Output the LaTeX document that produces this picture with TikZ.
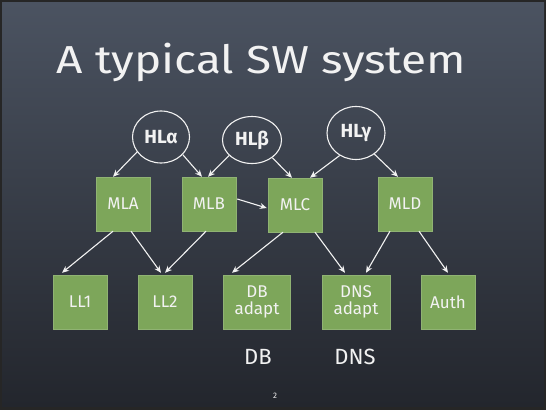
\documentclass[tikz,border=0pt]{standalone}
\usepackage{fontspec}
\setmainfont{Fira Sans}
\usetikzlibrary{shapes.geometric,arrows.meta,calc}

\definecolor{slatetop}{HTML}{4B5361}
\definecolor{slatebot}{HTML}{23262D}
\definecolor{boxgreen}{HTML}{7DA65A}
\definecolor{chalk}{HTML}{F2F2F2}

\tikzset{
  hl/.style={ellipse, draw=chalk, line width=1.1pt, inner sep=0pt,
             text=chalk, font=\fontsize{19}{21}\selectfont\bfseries},
  mod/.style={rectangle, fill=boxgreen, draw=boxgreen!85!white, line width=0.4pt,
              minimum width=54pt, minimum height=54pt, inner sep=1pt,
              text=chalk, font=\fontsize{17}{18}\selectfont, align=center},
  link/.style={draw=chalk, line width=1.1pt,
               -{Stealth[length=7pt,width=6pt]}},
  caption/.style={text=chalk, font=\fontsize{22}{24}\selectfont}
}

\begin{document}
\begin{tikzpicture}[x=1pt, y=-1pt]
  % chalkboard background with dark frame
  \useasboundingbox (0,0) rectangle (546,410);
  \fill[black!85] (0,0) rectangle (546,410);
  \shade[top color=slatetop, bottom color=slatebot] (2,2) rectangle (544,406);

  % title
  \node[anchor=base, text=chalk, font=\fontsize{39}{44}\selectfont]
    (title) at (261.5,73) {\scalebox{1.18}[1]{A typical SW system}};

  % high-level components
  \node[hl, minimum width=57pt, minimum height=52pt] (hla) at (161,137) {HLα};
  \node[hl, minimum width=59pt, minimum height=47pt] (hlb) at (252,140) {HLβ};
  \node[hl, minimum width=58pt, minimum height=53pt] (hlc) at (356,133) {HLγ};

  % mid-level modules
  \node[mod] (mla) at (123,204) {MLA};
  \node[mod] (mlb) at (209,204) {MLB};
  \node[mod] (mlc) at (295,205) {MLC};
  \node[mod] (mld) at (405,204) {MLD};

  % low-level modules
  \node[mod] (ll1) at (80,302) {LL1};
  \node[mod] (ll2) at (165,302) {LL2};
  \node[mod, minimum width=67pt] (dba) at (257,302) {DB\\[-1pt]adapt};
  \node[mod, minimum width=68pt] (dnsa) at (356,302) {DNS\\[-1pt]adapt};
  \node[mod] (auth) at (448,302) {Auth};

  % external services
  \node[caption] (db) at (258,357) {DB};
  \node[caption] (dns) at (355,357) {DNS};

  % page number
  \node[text=chalk, font=\fontsize{8}{9}\selectfont] (pg) at (275,396) {2};

  % high level -> mid level
  \draw[link] (hla.-148) -- ($(mla.north)+(-10,0)$);
  \draw[link] (hla.-39)  -- ($(mlb.north)+(-7,0)$);
  \draw[link] (hlb.-146) -- ($(mlb.north)+(-1,0)$);
  \draw[link] (hlb.-41)  -- ($(mlc.north)+(-3,0)$);
  \draw[link] (hlc.-126) -- ($(mlc.north)+(15,0)$);
  \draw[link] (hlc.-49)  -- ($(mld.north)+(-7,0)$);

  % mid level -> mid level
  \draw[link] ($(mlb.east)+(1,-5)$) -- ($(mlc.west)+(-1,3)$);

  % mid level -> low level
  \draw[link] ($(mla.south)+(-10,0)$) -- ($(ll1.north)+(-18,-2)$);
  \draw[link] ($(mla.south)+(8,0)$)   -- ($(ll2.north)+(-4,-2)$);
  \draw[link] ($(mlb.south)+(-3,0)$)  -- ($(ll2.north)+(0,-2)$);
  \draw[link] ($(mlc.south)+(-12,0)$) -- ($(dba.north)+(-25,-2)$);
  \draw[link] ($(mlc.south)+(20,0)$)  -- ($(dnsa.north)+(-11,-2)$);
  \draw[link] ($(mld.south)+(-15,0)$) -- ($(dnsa.north)+(10,-2)$);
  \draw[link] ($(mld.south)+(14,0)$)  -- ($(auth.north)+(0,-2)$);
\end{tikzpicture}
\end{document}
